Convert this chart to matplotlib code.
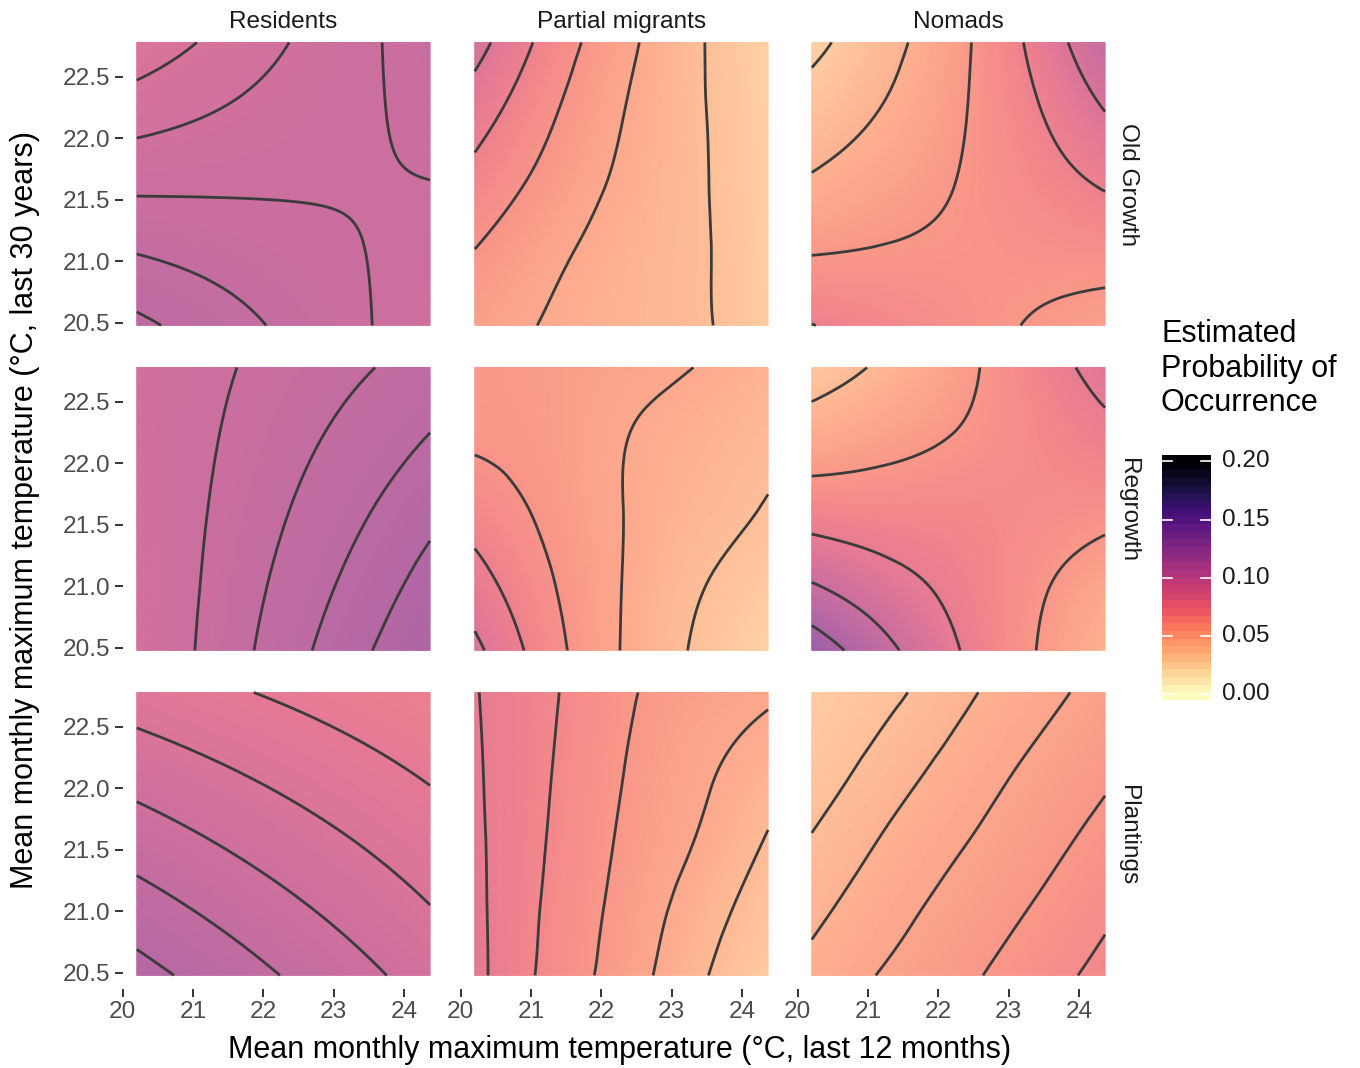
import numpy as np
import matplotlib
matplotlib.use("Agg")
import matplotlib.pyplot as plt
import matplotlib.tri as mtri
from matplotlib import colormaps
from matplotlib.colors import ListedColormap

plt.rcParams['font.family'] = ['Liberation Sans', 'DejaVu Sans']

# ---------------- data ----------------
guilds = ["Residents", "Partial migrants", "Nomads"]
habitats = ["Old Growth", "Regrowth", "Plantings"]

x_ticks = [20, 21, 22, 23, 24]
x_tick_labels = ["20", "21", "22", "23", "24"]
y_ticks = [20.5, 21.0, 21.5, 22.0, 22.5]
y_tick_labels = ["20.5", "21.0", "21.5", "22.0", "22.5"]
legend_breaks = [0.00, 0.05, 0.10, 0.15, 0.20]
legend_labels = ["0.00", "0.05", "0.10", "0.15", "0.20"]

# prediction grid (°C)
temp_12m = [20.2, 21.24, 22.28, 23.33, 24.37]      # columns
temp_30y = [20.48, 21.055, 21.63, 22.205, 22.78]   # rows (ascending)

# estimated probability of occurrence, rows = temp_30y, cols = temp_12m
res_old = [[0.10892, 0.10614, 0.10336, 0.10058, 0.09780],
           [0.10404, 0.10275, 0.10146, 0.10016, 0.09887],
           [0.09916, 0.09936, 0.09955, 0.09975, 0.09994],
           [0.09428, 0.09596, 0.09765, 0.09933, 0.10101],
           [0.08940, 0.09257, 0.09574, 0.09891, 0.10208]]
res_regrowth = [[0.09530, 0.10125, 0.10750, 0.11375, 0.11950],
                [0.09534, 0.10069, 0.10605, 0.11140, 0.11675],
                [0.09568, 0.10013, 0.10459, 0.10905, 0.11350],
                [0.09601, 0.09957, 0.10314, 0.10670, 0.11025],
                [0.09635, 0.09901, 0.10168, 0.10434, 0.10700]]
res_plant = [[0.11513, 0.10995, 0.10478, 0.09960, 0.09443],
             [0.10795, 0.10345, 0.09897, 0.09447, 0.08998],
             [0.10077, 0.09696, 0.09316, 0.08935, 0.08554],
             [0.09358, 0.09046, 0.08735, 0.08422, 0.08110],
             [0.08640, 0.08396, 0.08153, 0.07909, 0.07665]]
pm_old = [[0.05525, 0.04913, 0.04425, 0.03938, 0.03000],
          [0.06188, 0.05275, 0.04550, 0.03938, 0.02900],
          [0.07075, 0.05863, 0.04813, 0.03938, 0.02813],
          [0.08063, 0.06450, 0.05050, 0.03925, 0.02750],
          [0.09250, 0.07088, 0.05375, 0.03925, 0.02688]]
pm_regrowth = [[0.09063, 0.06788, 0.04975, 0.03638, 0.02625],
               [0.07938, 0.06375, 0.05013, 0.03913, 0.03138],
               [0.06950, 0.05988, 0.05025, 0.04300, 0.03663],
               [0.06100, 0.05750, 0.05060, 0.04560, 0.04040],
               [0.05938, 0.05688, 0.05375, 0.04990, 0.04375]]
pm_plant = [[0.08300, 0.0676, 0.0557, 0.0423, 0.0310],
            [0.08245, 0.0687, 0.0575, 0.0460, 0.0350],
            [0.08181, 0.0698, 0.0592, 0.0502, 0.0397],
            [0.08115, 0.0707, 0.0605, 0.0525, 0.0455],
            [0.08049, 0.0716, 0.0618, 0.0556, 0.0515]]
nom_old = [[0.07530, 0.06990, 0.06450, 0.05925, 0.05475],
           [0.05985, 0.06120, 0.06240, 0.06360, 0.06480],
           [0.04680, 0.05355, 0.06030, 0.06825, 0.07635],
           [0.03645, 0.04620, 0.05835, 0.07275, 0.08970],
           [0.02640, 0.04020, 0.05655, 0.07770, 0.10335]]
nom_regrowth = [[0.1320, 0.1052, 0.0806, 0.0610, 0.0446],
                [0.0988, 0.0858, 0.0748, 0.0632, 0.0524],
                [0.0708, 0.0692, 0.0690, 0.0670, 0.0646],
                [0.0492, 0.0548, 0.0610, 0.0680, 0.0756],
                [0.0320, 0.0428, 0.0556, 0.0708, 0.0860]]
nom_plant = [[0.04725, 0.05318, 0.05820, 0.06383, 0.06968],
             [0.04275, 0.04935, 0.05490, 0.06008, 0.06585],
             [0.03758, 0.04530, 0.05138, 0.05670, 0.06195],
             [0.03248, 0.04035, 0.04748, 0.05340, 0.05843],
             [0.03038, 0.03518, 0.04298, 0.04958, 0.05513]]

surfaces = [[res_old, pm_old, nom_old],
            [res_regrowth, pm_regrowth, nom_regrowth],
            [res_plant, pm_plant, nom_plant]]

# contour interval used in each panel
contour_step = [[0.004, 0.0125, 0.015],
                [0.005, 0.0125, 0.02],
                [0.0075, 0.01, 0.0075]]

# ---------------- styling / layout ----------------
W, H = 1360, 1068
fig = plt.figure(figsize=(W / 100, H / 100), dpi=100)

base = colormaps['magma_r']
alpha = 0.72
cols = base(np.linspace(0, 1, 256))
cols[:, :3] = cols[:, :3] * alpha + (1 - alpha)
panel_cmap = ListedColormap(cols)

col_left = [122.5, 460.5, 797.5]
row_top = [30.9, 355.9, 680.9]
ax_w, ax_h = 322, 308
px_per_x = 70.33
px_per_y = 123.0
xlim = (19.997, 19.997 + ax_w / px_per_x)
ylim = (20.37, 20.37 + ax_h / px_per_y)

xs, ys = np.meshgrid(temp_12m, temp_30y)
tri = mtri.Triangulation(xs.ravel(), ys.ravel())
refiner = mtri.UniformTriRefiner(tri)

tick_col = '#333333'
lab_col = '#4D4D4D'

for r in range(3):
    for c in range(3):
        ax = fig.add_axes([col_left[c] / W, 1 - (row_top[r] + ax_h) / H, ax_w / W, ax_h / H])
        z = np.asarray(surfaces[r][c], dtype=float).ravel()
        interp = mtri.CubicTriInterpolator(tri, z, kind='min_E')
        tri_f, z_f = refiner.refine_field(z, triinterpolator=interp, subdiv=5)
        ax.tripcolor(tri_f, z_f, shading='gouraud', cmap=panel_cmap, vmin=0, vmax=0.2)
        step = contour_step[r][c]
        k0 = int(np.ceil(z.min() / step - 1e-9))
        k1 = int(np.floor(z.max() / step + 1e-9))
        levels = [round(k * step, 6) for k in range(k0, k1 + 1)]
        ax.tricontour(tri_f, z_f, levels=levels, colors='#3b3b3b', linewidths=2.0)
        ax.set_xlim(xlim)
        ax.set_ylim(ylim)
        for s in ax.spines.values():
            s.set_visible(False)
        ax.set_facecolor('none')
        ax.set_xticks(x_ticks)
        ax.set_xticklabels(x_tick_labels)
        ax.set_yticks(y_ticks)
        ax.set_yticklabels(y_tick_labels)
        ax.tick_params(length=5.5, width=1.4, color=tick_col, labelsize=17.6,
                       labelcolor=lab_col, pad=3.5)
        if c > 0:
            ax.tick_params(axis='y', left=False, labelleft=False)
        if r < 2:
            ax.tick_params(axis='x', bottom=False, labelbottom=False)

# strip labels
for c, g in enumerate(guilds):
    fig.text((col_left[c] + ax_w / 2) / W, 1 - 22 / H, g, ha='center', va='center',
             fontsize=17.6, color='#1A1A1A')
for r, h in enumerate(habitats):
    fig.text(1128 / W, 1 - (row_top[r] + ax_h / 2) / H, h, ha='center', va='center',
             rotation=-90, fontsize=17.6, color='#1A1A1A')

# axis titles
fig.text(620 / W, 1 - 1050 / H, "Mean monthly maximum temperature (°C, last 12 months)",
         ha='center', va='center', fontsize=22, color='black')
fig.text(25 / W, 1 - 510 / H, "Mean monthly maximum temperature (°C, last 30 years)",
         ha='center', va='center', rotation=90, fontsize=22, color='black')

# legend
fig.text(1161 / W, 1 - 319 / H, "Estimated\nProbability of\nOccurrence", ha='left', va='top',
         fontsize=22, color='black', linespacing=1.2)

cb_left, cb_top, cb_w, cb_h = 1162, 455, 49, 245
cax = fig.add_axes([cb_left / W, 1 - (cb_top + cb_h) / H, cb_w / W, cb_h / H])
lo, hi = -0.0052, 0.2055
nb = 32
edges = np.linspace(lo, hi, nb + 1)
centers = 0.5 * (edges[:-1] + edges[1:])
cax.pcolormesh([0, 1], edges, centers.reshape(-1, 1), cmap=base, vmin=0, vmax=0.2,
               shading='flat')
cax.set_xlim(0, 1)
cax.set_ylim(lo, hi)
cax.axis('off')
for b, lab in zip(legend_breaks, legend_labels):
    cax.plot([0, 0.2], [b, b], color='white', lw=1.2)
    cax.plot([0.8, 1], [b, b], color='white', lw=1.2)
    ypx = cb_top + (hi - b) / (hi - lo) * cb_h
    fig.text(1222 / W, 1 - ypx / H, lab, ha='left', va='center', fontsize=17.6, color='#1A1A1A')

fig.savefig("out.png", dpi=100)
